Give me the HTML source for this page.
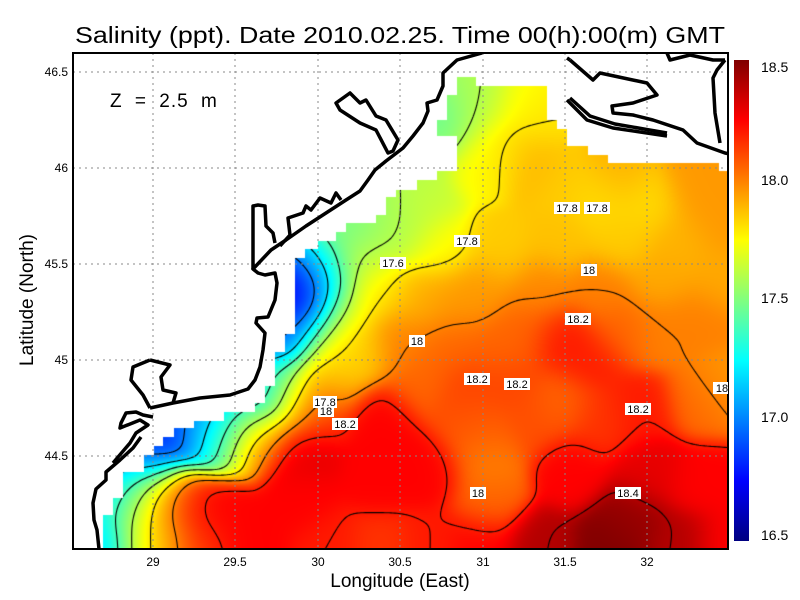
<!DOCTYPE html>
<html><head><meta charset="utf-8">
<style>
html,body{margin:0;padding:0;background:#fff;width:800px;height:600px;overflow:hidden;}
#c{position:absolute;left:73px;top:53px;}
svg{position:absolute;left:0;top:0;}
text{font-family:"Liberation Sans",sans-serif;}
</style></head><body>
<canvas id="c" width="655" height="496"></canvas>
<svg width="800" height="600" xmlns="http://www.w3.org/2000/svg">
<defs>
<linearGradient id="jet" x1="0" y1="1" x2="0" y2="0">
<stop offset="0" stop-color="#000080"/><stop offset="0.125" stop-color="#0000ff"/>
<stop offset="0.375" stop-color="#00ffff"/><stop offset="0.5" stop-color="#80ff80"/>
<stop offset="0.625" stop-color="#ffff00"/><stop offset="0.875" stop-color="#ff0000"/>
<stop offset="1" stop-color="#800000"/></linearGradient>
<clipPath id="pc"><rect x="73" y="53" width="655" height="496"/></clipPath>
</defs>
<text x="400" y="43" font-size="23" text-anchor="middle" textLength="650" lengthAdjust="spacingAndGlyphs">Salinity (ppt). Date 2010.02.25. Time 00(h):00(m) GMT</text>
<g stroke="#888" stroke-width="1" stroke-dasharray="2,4">
<line x1="153" y1="53" x2="153" y2="549"/><line x1="235" y1="53" x2="235" y2="549"/>
<line x1="318" y1="53" x2="318" y2="549"/><line x1="400" y1="53" x2="400" y2="549"/>
<line x1="483" y1="53" x2="483" y2="549"/><line x1="565" y1="53" x2="565" y2="549"/>
<line x1="647" y1="53" x2="647" y2="549"/>
<line x1="73" y1="72" x2="728" y2="72"/><line x1="73" y1="168" x2="728" y2="168"/>
<line x1="73" y1="264" x2="728" y2="264"/><line x1="73" y1="360" x2="728" y2="360"/>
<line x1="73" y1="456" x2="728" y2="456"/>
</g>
<g clip-path="url(#pc)" fill="none" stroke="#000" stroke-width="3.5" stroke-linejoin="round">
<polyline points="99,549 97,530 94,520 93,503 96,489 106,480 106,472 120,460 133,448 141,437"/>
<polyline points="150,408 173,403 200,398 230,395 248,389 255,380 260,367 263,350 265,333 256,323 257,318 268,317 275,300 277,283 275,273 265,275 258,273 253,269 271,250 286,240 306,226 326,213 346,200 360,191 368,180 375,170 386,161 403,148 413,136 423,123 428,111 427,103 437,100 443,86 443,73 457,60 482,53"/>
<polyline points="253,269 253,255 253,206 258,205 265,206 266,226 273,233 275,243"/>
<polyline points="280,246 290,235 288,218 303,213 306,206 311,210 320,198 331,203 336,193 341,200"/>
<polygon points="336,103 350,93 360,103 366,100 376,116 386,120 398,140 393,151 388,153 376,130 360,123 340,110"/>
<polyline points="150,360 170,365 161,377 163,390 176,393 173,403"/>
<polyline points="150,360 133,367 131,380 143,395 150,408"/>
<polyline points="153,417 143,415 136,412 126,413 121,423 120,428 140,420 148,425 136,433 130,443 113,463"/>
<polyline points="570,60 593,80 600,73 647,83 657,95 633,103 612,106 613,113 633,115 653,120 683,130 697,143 725,153 730,154"/>
<polyline points="567,58 570,60"/>
<polyline points="567,100 587,120 613,128 667,136"/>
<polyline points="570,98 590,116 615,124 667,133"/>
<polyline points="667,53 670,60 690,55 713,60 725,60"/>
<polyline points="725,60 717,70 713,78 715,113 720,143"/>
</g>
<rect x="73" y="53" width="655" height="496" fill="none" stroke="#000" stroke-width="2"/>
<g font-size="12" text-anchor="middle">
<text x="153" y="566">29</text><text x="235" y="566">29.5</text><text x="318" y="566">30</text>
<text x="400" y="566">30.5</text><text x="483" y="566">31</text><text x="565" y="566">31.5</text><text x="647" y="566">32</text>
</g>
<g font-size="12" text-anchor="end">
<text x="68" y="76">46.5</text><text x="68" y="172">46</text><text x="68" y="268">45.5</text>
<text x="68" y="364">45</text><text x="68" y="460">44.5</text>
</g>
<text x="400" y="587" font-size="19" text-anchor="middle">Longitude (East)</text>
<text transform="translate(33,300) rotate(-90)" font-size="19" text-anchor="middle">Latitude (North)</text>
<text x="110" y="107" font-size="19" word-spacing="6" letter-spacing="1">Z = 2.5 m</text>
<rect x="734" y="60" width="15" height="481" fill="url(#jet)"/>
<g font-size="14">
<text x="761" y="72">18.5</text><text x="761" y="185">18.0</text><text x="761" y="303">17.5</text>
<text x="761" y="422">17.0</text><text x="761" y="540">16.5</text>
</g>
<g font-size="11" text-anchor="middle">
<g fill="#fff"><rect x="313" y="396" width="24" height="12"/><rect x="318" y="405" width="16" height="12"/><rect x="332" y="418" width="26" height="12"/>
<rect x="454" y="235" width="26" height="12"/><rect x="554" y="202" width="26" height="12"/><rect x="584" y="202" width="26" height="12"/>
<rect x="581" y="264" width="16" height="12"/><rect x="380" y="257" width="26" height="12"/>
<rect x="565" y="313" width="26" height="12"/><rect x="409" y="335" width="16" height="12"/><rect x="464" y="373" width="26" height="12"/>
<rect x="504" y="378" width="26" height="12"/><rect x="470" y="487" width="16" height="12"/><rect x="615" y="487" width="26" height="12"/>
<rect x="625" y="403" width="26" height="12"/><rect x="713" y="382" width="15" height="12"/></g>
<text x="325" y="406">17.8</text><text x="326" y="415">18</text><text x="345" y="428">18.2</text>
<text x="467" y="245">17.8</text><text x="567" y="212">17.8</text><text x="597" y="212">17.8</text>
<text x="589" y="274">18</text><text x="393" y="267">17.6</text>
<text x="578" y="323">18.2</text><text x="417" y="345">18</text><text x="477" y="383">18.2</text>
<text x="517" y="388">18.2</text><text x="478" y="497">18</text><text x="628" y="497">18.4</text>
<text x="638" y="413">18.2</text><text x="722" y="392">18</text>
</g>
</svg>
<script>
var P=[[105,545,17.15],[106,500,17.2],[120,480,17.0],[150,462,16.85],[183,430,16.8],[220,420,16.75],[255,412,16.8],[273,383,17.2],[286,337,17.0],[295,303,16.7],[298,285,16.5],[297,290,16.5],[293,275,16.8],[303,300,16.9],[292,320,16.9],[300,265,16.9],[308,252,17.4],[322,290,17.4],
[130,500,17.55],[143,500,17.75],[160,500,18.0],[183,500,18.2],
[206,430,17.2],[220,432,17.5],[236,432,17.8],[250,432,18.0],[266,432,18.2],
[285,395,17.6],[300,400,17.95],[315,410,18.2],
[140,545,17.7],[165,545,17.95],[200,545,18.15],
[220,515,18.25],[250,545,18.25],[300,500,18.25],[300,450,18.3],[330,545,18.2],[380,545,18.15],[380,480,18.25],[380,420,18.25],[430,470,18.25],[430,545,18.2],[480,545,18.25],[485,460,18.0],[480,430,18.05],[490,500,18.05],[470,420,18.1],[540,545,18.4],[610,545,18.5],[630,520,18.45],[680,545,18.4],[725,545,18.25],[700,480,18.25],[650,470,18.3],[570,470,18.25],[530,420,18.1],[560,400,18.05],[600,420,18.15],[640,410,18.2],[700,400,18.05],[720,385,17.95],
[330,380,17.9],[330,360,17.8],[320,330,17.7],[340,310,17.75],[360,350,17.85],[400,340,18.0],[450,340,18.05],[420,380,18.05],[470,390,18.12],[510,380,18.12],[500,350,18.05],[450,300,17.95],[520,330,18.05],[560,340,18.2],[590,360,18.2],[620,330,18.05],[660,330,18.0],[700,320,18.0],[720,280,17.92],[660,280,17.92],[600,290,18.0],[540,290,17.98],[480,290,17.95],[420,300,17.9],[380,290,17.8],
[330,220,17.5],[320,270,17.55],[360,260,17.6],[400,230,17.6],[420,200,17.65],[440,250,17.75],[500,250,17.85],[560,240,17.87],[620,240,17.85],[680,240,17.9],[720,220,17.95],[700,190,17.95],[650,200,17.82],[600,200,17.82],[560,180,17.85],[530,160,17.9],[500,150,17.8],[480,160,17.75],[470,120,17.7],[480,90,17.6],[520,100,17.75],[540,120,17.8],[430,130,17.6],[410,180,17.6],[380,200,17.55],[350,220,17.5],[460,100,17.55],[445,120,17.3],[620,170,17.9],[700,170,17.95]];
var X0=73,Y0=53,W=655,H=496,S=2,nx=Math.ceil(W/S)+1,ny=Math.ceil(H/S)+1,F=new Float32Array(nx*ny);
var s2=2*20*20;
for(var j=0;j<ny;j++)for(var i=0;i<nx;i++){var x=X0+i*S,y=Y0+j*S,sw=0,sv=0;
for(var k=0;k<P.length;k++){var dx=x-P[k][0],dy=y-P[k][1],d2=dx*dx+dy*dy;var q=1+d2/400;var w=Math.exp(-d2/s2)+1e-4/(q*q);sw+=w;sv+=w*P[k][2];}
F[j*nx+i]=sv/sw;}
function cl(v){return v<0?0:v>1?1:v;}
var c=document.getElementById('c'),ctx=c.getContext('2d'),img=ctx.createImageData(W,H),d=img.data;
for(var y=0;y<H;y++)for(var x=0;x<W;x++){var gx=x/S,gy=y/S,i0=Math.floor(gx),j0=Math.floor(gy),fx=gx-i0,fy=gy-j0;
var i1=Math.min(i0+1,nx-1),j1=Math.min(j0+1,ny-1);
var v=F[j0*nx+i0]*(1-fx)*(1-fy)+F[j0*nx+i1]*fx*(1-fy)+F[j1*nx+i0]*(1-fx)*fy+F[j1*nx+i1]*fx*fy;
var t=(v-16.5)/2,p=(y*W+x)*4;
d[p]=255*cl(1.5-Math.abs(4*t-3));d[p+1]=255*cl(1.5-Math.abs(4*t-2));d[p+2]=255*cl(1.5-Math.abs(4*t-1));d[p+3]=255;}
ctx.putImageData(img,0,0);
ctx.strokeStyle='#000';ctx.lineWidth=1.1;ctx.beginPath();
for(var L=16.6;L<18.45;L+=0.2){
for(var j=0;j<ny-1;j++)for(var i=0;i<nx-1;i++){
var a=F[j*nx+i],b=F[j*nx+i+1],cc=F[(j+1)*nx+i+1],dd=F[(j+1)*nx+i];
var pts=[];
function e(v1,v2,x1,y1,x2,y2){if((v1<L)!=(v2<L)){var t=(L-v1)/(v2-v1);pts.push([(x1+(x2-x1)*t)*S,(y1+(y2-y1)*t)*S]);}}
e(a,b,i,j,i+1,j);e(b,cc,i+1,j,i+1,j+1);e(dd,cc,i,j+1,i+1,j+1);e(a,dd,i,j,i,j+1);
for(var q=0;q+1<pts.length;q+=2){ctx.moveTo(pts[q][0],pts[q][1]);ctx.lineTo(pts[q+1][0],pts[q+1][1]);}
}}
ctx.stroke();
var M=[[103,549],[103,515],[113,515],[113,498],[123,498],[123,472],[144,472],[144,455],[154,455],[154,446],[163,446],[163,437],[174,437],[174,428],[194,428],[194,421],[224,421],[224,412],[255,412],[255,403],[265,403],[265,386],[275,386],[275,352],[285,352],[285,334],[295,334],[295,258],[305,258],[305,249],[318,249],[318,241],[336,241],[336,232],[346,232],[346,223],[376,223],[376,215],[386,215],[386,197],[396,197],[396,190],[417,190],[417,180],[437,180],[437,171],[457,171],[457,77],[476,77],[476,86],[547,86],[547,120],[557,120],[557,129],[567,129],[567,146],[588,146],[588,155],[608,155],[608,163],[719,163],[719,171],[730,171],[730,551],[103,551]];
ctx.globalCompositeOperation='destination-in';ctx.beginPath();
ctx.moveTo(M[0][0]-X0,M[0][1]-Y0);for(var k=1;k<M.length;k++)ctx.lineTo(M[k][0]-X0,M[k][1]-Y0);ctx.closePath();
ctx.rect(437-X0,120-Y0,10,16);ctx.rect(447-X0,95-Y0,10,41);
ctx.fill();
</script>
</body></html>
